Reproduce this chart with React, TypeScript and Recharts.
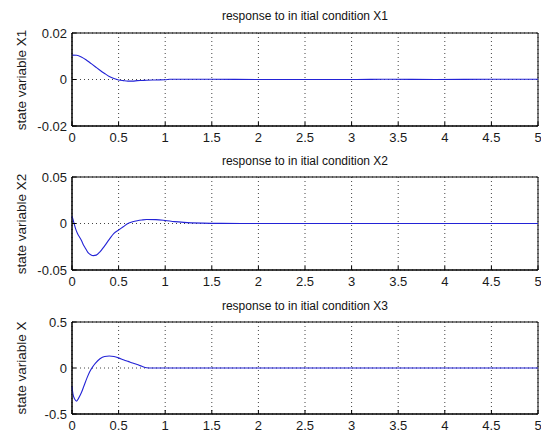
import React from 'react';
import { LineChart, Line, XAxis, YAxis, CartesianGrid, ReferenceArea } from 'recharts';

// time axis ticks
const xTicks = [0, 0.5, 1, 1.5, 2, 2.5, 3, 3.5, 4, 4.5, 5];

// X1 response
const t1 = [0, 0.05, 0.1, 0.15, 0.2, 0.25, 0.3, 0.35, 0.4, 0.45, 0.5, 0.55, 0.6, 0.65, 0.7, 0.75, 0.8, 0.9, 1.0, 1.05, 1.5, 2, 2.5, 3, 3.4, 3.9, 4.5, 5];
const x1 = [0.0105, 0.0104, 0.0097, 0.0085, 0.007, 0.0055, 0.004, 0.0026, 0.0013, 0.0004, -0.0002, -0.0005, -0.0007, -0.0007, -0.0005, -0.0004, -0.0003, -0.0002, -0.0001, 0.0001, 0.0001, 0, 0, 0, 0.0001, 0, 0.0001, 0.0001];
const y1Ticks = [-0.02, 0, 0.02];

// X2 response
const t2 = [0, 0.02, 0.04, 0.06, 0.08, 0.1, 0.12, 0.14, 0.17, 0.2, 0.23, 0.26, 0.3, 0.35, 0.4, 0.45, 0.5, 0.55, 0.6, 0.65, 0.7, 0.75, 0.8, 0.9, 1.0, 1.1, 1.2, 1.4, 1.6, 2, 3, 4, 5];
const x2 = [0.008, 0.001, -0.006, -0.011, -0.0145, -0.018, -0.0225, -0.026, -0.031, -0.0335, -0.0345, -0.034, -0.0305, -0.024, -0.017, -0.0105, -0.007, -0.0035, 0, 0.0018, 0.003, 0.0038, 0.0043, 0.0042, 0.0033, 0.002, 0.0012, 0.0004, 0.0001, 0, 0, 0, 0];
const y2Ticks = [-0.05, 0, 0.05];

// X3 response
const t3 = [0, 0.01, 0.03, 0.05, 0.07, 0.1, 0.13, 0.16, 0.19, 0.22, 0.25, 0.3, 0.35, 0.4, 0.45, 0.5, 0.55, 0.6, 0.65, 0.7, 0.75, 0.8, 0.85, 1, 2, 3, 4, 5];
const x3 = [-0.2, -0.28, -0.34, -0.36, -0.33, -0.27, -0.19, -0.11, -0.04, 0.01, 0.05, 0.1, 0.125, 0.13, 0.125, 0.11, 0.09, 0.072, 0.055, 0.037, 0.018, 0.003, 0, 0, 0, 0, 0, 0];
const y3Ticks = [-0.5, 0, 0.5];

const titles = ['response to in itial condition X1', 'response to in itial condition X2', 'response to in itial condition X3'];
const yLabels = ['state variable X1', 'state variable X2', 'state variable X'];

const FONT = '"Liberation Sans", Arial, sans-serif';

function toData(t: number[], v: number[]) {
  return t.map((tt, i) => ({ t: tt, v: v[i] }));
}

function Panel(props: {
  top: number; height: number; mt: number; data: { t: number; v: number }[];
  yTicks: number[]; title: string; ylabel: string;
}) {
  const { top, height, mt, data, yTicks, title, ylabel } = props;
  const dom: [number, number] = [yTicks[0], yTicks[yTicks.length - 1]];
  const plotBottom = height - 19;
  const cy = (mt + plotBottom) / 2;
  const tickStyle = { fill: '#1a1a1a', fontSize: 13, fontFamily: FONT };
  return (
    <div style={{ position: 'absolute', left: 0, top, width: 541, height }}>
      <LineChart width={541} height={height} data={data} margin={{ top: mt, right: 3, bottom: 0, left: 0 }}>
        <CartesianGrid stroke="#444" strokeDasharray="1 3" />
        <XAxis
          type="number" dataKey="t" domain={[0, 5]} ticks={xTicks} interval={0}
          height={19} tickSize={-4} tickMargin={11}
          tickLine={{ stroke: '#000' }} axisLine={{ stroke: '#000' }} tick={tickStyle}
        />
        <YAxis
          type="number" domain={dom} ticks={yTicks} interval={0} width={72}
          tickSize={-4} tickMargin={9} allowDataOverflow
          tickLine={{ stroke: '#000' }} axisLine={{ stroke: '#000' }} tick={tickStyle}
        />
        <ReferenceArea x1={0} x2={5} y1={dom[0]} y2={dom[1]} fill="none" fillOpacity={0} stroke="#000" strokeOpacity={1} ifOverflow="visible" />
        <Line type="monotone" dataKey="v" stroke="#2323d6" strokeWidth={1.1} dot={false} isAnimationActive={false} />
      </LineChart>
      <div style={{ position: 'absolute', left: 72, width: 466, top: 9, textAlign: 'center', fontFamily: FONT, fontSize: 12, lineHeight: '14px', color: '#111', whiteSpace: 'nowrap' }}>
        {title}
      </div>
      <div style={{ position: 'absolute', left: 21, top: cy, transform: 'translate(-50%, -50%) rotate(-90deg)', fontFamily: FONT, fontSize: 13.5, lineHeight: '15px', color: '#1a1a1a', whiteSpace: 'nowrap' }}>
        {ylabel}
      </div>
    </div>
  );
}

export default function App() {
  return (
    <div style={{ position: 'absolute', left: 0, top: 0, width: 541, height: 435, background: '#fff' }}>
      <Panel top={0} height={145} mt={33} data={toData(t1, x1)} yTicks={y1Ticks} title={titles[0]} ylabel={yLabels[0]} />
      <Panel top={145} height={144} mt={32} data={toData(t2, x2)} yTicks={y2Ticks} title={titles[1]} ylabel={yLabels[1]} />
      <Panel top={290} height={143} mt={32} data={toData(t3, x3)} yTicks={y3Ticks} title={titles[2]} ylabel={yLabels[2]} />
    </div>
  );
}
